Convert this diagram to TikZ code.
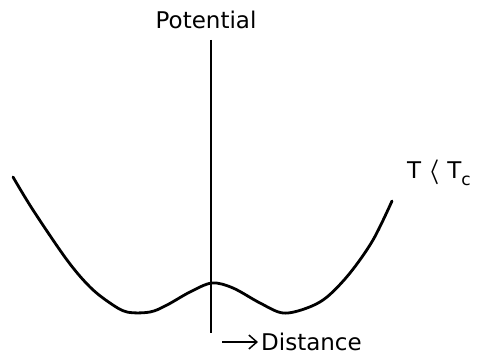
\documentclass[tikz,border=0pt]{standalone}
\usepackage{fontspec}
\setmainfont{DejaVu Sans}
\usetikzlibrary{arrows.meta}
\begin{document}
\begin{tikzpicture}[x=1pt,y=-1pt,
  lbl/.style={font=\fontsize{23}{27}\selectfont, inner sep=0pt},
  curve/.style={line width=2.8pt, line cap=round, line join=round},
  axis/.style={line width=1.8pt}]
\useasboundingbox (0,0) rectangle (484,361);
\node[lbl] (pot) at (206,20) {Potential};
\coordinate (top) at (211,40);
\coordinate (bot) at (211,333);
\draw[axis] (top) -- (bot);
\draw[curve] plot[smooth,tension=0.55] coordinates {
 (13,177) (33,210) (67,260) (90,287) (110,303) (127,312) (150,312) (167,305) (190,292)
 (212,283) (233,288) (260,303) (283,313) (307,308) (327,297) (350,273) (373,240) (392,201)};
\node[lbl, anchor=west] (tt) at (407,173) {T\hspace{7pt}{\boldmath$\big\langle$}\hspace{8pt}T\raisebox{-0.3em}{\fontsize{17}{20}\selectfont c}};
\node[lbl, anchor=west] (dist) at (261,342) {Distance};
\coordinate (arrs) at (222,342);
\draw[line width=1.5pt, -{Straight Barb[length=8pt,width=14pt]}] (arrs) -- ([xshift=-3pt]dist.west);
\end{tikzpicture}
\end{document}
